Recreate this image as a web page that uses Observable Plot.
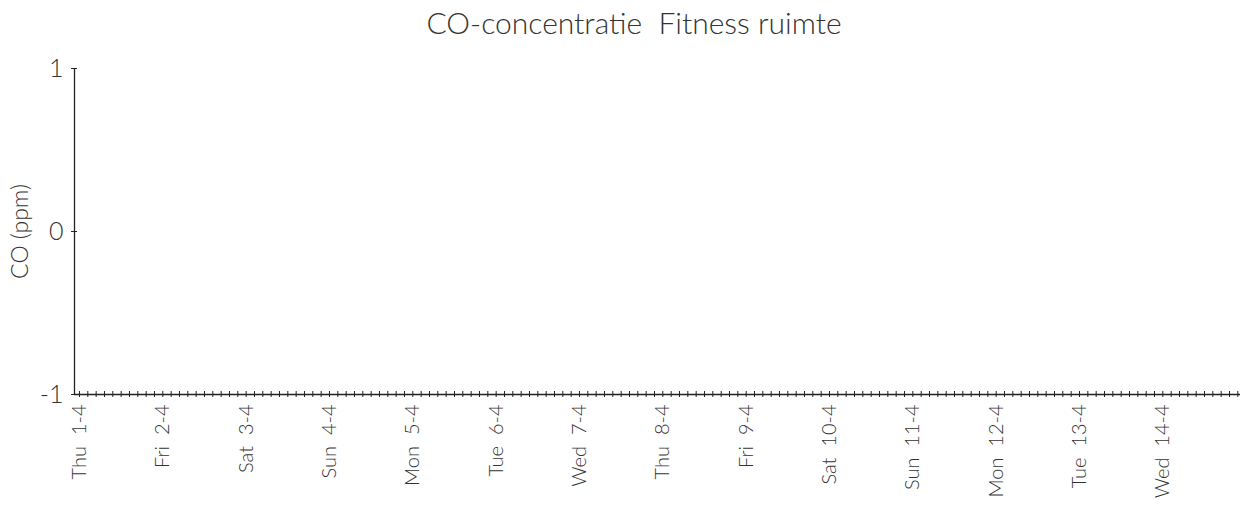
<!DOCTYPE html>
<html><head><meta charset="utf-8">
<script src="https://cdn.jsdelivr.net/npm/d3@7"></script>
<script src="https://cdn.jsdelivr.net/npm/@observablehq/plot@0.6"></script>
<style>
body{margin:0;background:#fff;}
#title{height:50px;line-height:44px;text-align:center;padding-left:28px;box-sizing:border-box;width:1240px;
  font-family:"Lato",sans-serif;font-weight:300;font-size:30px;color:#333;white-space:pre;}
svg text{white-space:pre;}
</style></head><body>
<div id="title"></div><div id="chart"></div>
<script>
const title = "CO-concentratie  Fitness ruimte";
const yLabel = "CO (ppm)";
const yDomain = [-1, 1];
const yTicks = [-1, 0, 1];
const xDomain = ["2021-03-31T22:34:00Z", "2021-04-14T22:22:00Z"];
const dayDates = ["2021-04-01","2021-04-02","2021-04-03","2021-04-04","2021-04-05","2021-04-06","2021-04-07",
                  "2021-04-08","2021-04-09","2021-04-10","2021-04-11","2021-04-12","2021-04-13","2021-04-14"];
const dayLabels = ["Thu  1-4","Fri  2-4","Sat  3-4","Sun  4-4","Mon  5-4","Tue  6-4","Wed  7-4",
                   "Thu  8-4","Fri  9-4","Sat  10-4","Sun  11-4","Mon  12-4","Tue  13-4","Wed  14-4"];
const minorTicksPerDay = 10;
// No measurements are shown in the chart
const coTimes = [];
const coValues = [];

document.getElementById("title").textContent = title;

const days = dayDates.map(d => new Date(d + "T00:00:00Z"));
const labelOf = new Map(days.map((d, i) => [+d, dayLabels[i]]));
const step = 864e5 / minorTicksPerDay;
const minorTicks = d3.range(days.length * minorTicksPerDay).map(i => new Date(+days[0] + i * step));
const data = coTimes.map((t, i) => ({time: new Date(t), co: coValues[i]}));
const xd = xDomain.map(d => new Date(d));
const font = '"Lato", sans-serif';

const chart = Plot.plot({
  width: 1240, height: 462,
  marginTop: 18, marginBottom: 118, marginLeft: 74, marginRight: 0,
  style: {fontFamily: font, fontWeight: 300, fontSize: "20px", color: "#333", background: "#fff", overflow: "visible"},
  x: {type: "utc", domain: xd},
  y: {domain: yDomain},
  marks: [
    Plot.line(data, {x: "time", y: "co", stroke: "#1f77b4"}),
    Plot.ruleX([xd[0]], {stroke: "#222", strokeWidth: 1.3}),
    Plot.ruleY([yDomain[0]], {stroke: "#222", strokeWidth: 1.3}),
    Plot.axisY(yTicks, {tickSize: 6, dx: 3, text: null, label: null, stroke: "#222"}),
    Plot.axisY(yTicks, {tickSize: 0, tickPadding: 11, tickFormat: d => String(d), label: null, fontSize: 25, fontWeight: 300, fill: "#333"}),
    Plot.axisY(yTicks, {tickSize: 0, text: null, label: yLabel, labelArrow: "none",
      labelAnchor: "center", labelOffset: 63, fontSize: 23, fontWeight: 300, fill: "#333"}),
    Plot.axisX(minorTicks, {tickSize: 6, dy: -3, text: null, label: null, stroke: "#222"}),
    Plot.axisX(days, {tickSize: 0, tickPadding: 10, tickRotate: -90, label: null, fontSize: 20, fontWeight: 300, fill: "#333",
      tickFormat: d => labelOf.get(+d)})
  ]
});
document.getElementById("chart").append(chart);
</script>
</body></html>
